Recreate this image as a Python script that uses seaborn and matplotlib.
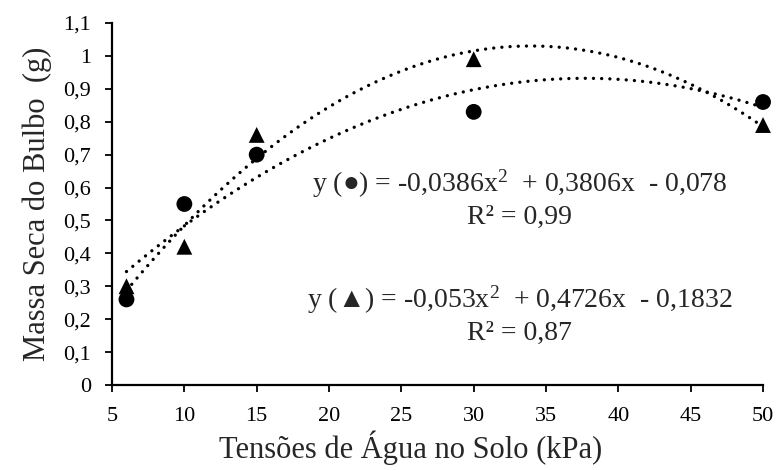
import numpy as np
import pandas as pd
import matplotlib
matplotlib.use("Agg")
import matplotlib.pyplot as plt
from matplotlib.ticker import FuncFormatter, MultipleLocator
import seaborn as sns

# Soil water tension (kPa) and bulb dry mass (g) for the two treatments
tensions = [6, 10, 15, 30, 50]
mass_circle = [0.26, 0.55, 0.70, 0.83, 0.86]
mass_triangle = [0.30, 0.42, 0.76, 0.99, 0.79]

eq_circle = "y (\u25CF) = -0,0386x$^{2}$  + 0,3806x  - 0,078\nR\u00B2 = 0,99"
eq_triangle = "y (\u25B2) = -0,053x$^{2}$  + 0,4726x  - 0,1832\nR\u00B2 = 0,87"

sns.set_theme(style="ticks")
plt.rcParams["font.family"] = ["Liberation Serif", "DejaVu Serif"]
plt.rcParams["mathtext.fontset"] = "custom"
plt.rcParams["mathtext.rm"] = "Liberation Serif"
plt.rcParams["mathtext.it"] = "Liberation Serif"
plt.rcParams["mathtext.default"] = "rm"

df = pd.DataFrame({
    "tension": tensions * 2,
    "mass": mass_circle + mass_triangle,
    "group": ["circle"] * len(tensions) + ["triangle"] * len(tensions),
})

fig = plt.figure(figsize=(7.79, 4.70), dpi=100)
ax = fig.add_axes([0.1438, 0.1809, 0.8357, 0.7701])

# Quadratic trend lines fitted on the measured points
xs = np.linspace(min(tensions), max(tensions), 200)
for vals in (mass_circle, mass_triangle):
    coef = np.polyfit(tensions, vals, 2)
    sns.lineplot(x=xs, y=np.polyval(coef, xs), ax=ax, color="black",
                 linewidth=2.4, linestyle=(0, (0.01, 2.45)))
for line in ax.get_lines():
    line.set_dash_capstyle("round")

sns.scatterplot(data=df, x="tension", y="mass", style="group",
                markers={"circle": "o", "triangle": "^"},
                color="black", s=130, edgecolor="black", linewidth=0,
                legend=False, ax=ax, zorder=3, clip_on=False)

ax.set_xlim(5, 50)
ax.set_ylim(0, 1.1)
ax.xaxis.set_major_locator(MultipleLocator(5))
ax.yaxis.set_major_locator(MultipleLocator(0.1))
ax.yaxis.set_major_formatter(FuncFormatter(
    lambda v, p: ("%.1f" % v).rstrip("0").rstrip(".").replace(".", ",") if v else "0"))
ax.tick_params(axis="both", direction="out", length=5, width=1.3,
               labelsize=16, colors="black")
ax.tick_params(axis="y", pad=10)
ax.tick_params(axis="x", pad=11)
for side in ("top", "right"):
    ax.spines[side].set_visible(False)
for side in ("left", "bottom"):
    ax.spines[side].set_linewidth(1.6)
    ax.spines[side].set_color("black")

ax.set_xlabel("Tensões de Água no Solo (kPa)", fontsize=22)
ax.xaxis.set_label_coords(0.459, -0.125)
ax.set_ylabel("Massa Seca do Bulbo  (g)", fontsize=22, labelpad=8)

ax.text(0.626, 0.515, eq_circle, transform=ax.transAxes, ha="center",
        va="center", fontsize=20, linespacing=1.25)
ax.text(0.626, 0.195, eq_triangle, transform=ax.transAxes, ha="center",
        va="center", fontsize=20, linespacing=1.25)

fig.savefig("out.png", dpi=100)
